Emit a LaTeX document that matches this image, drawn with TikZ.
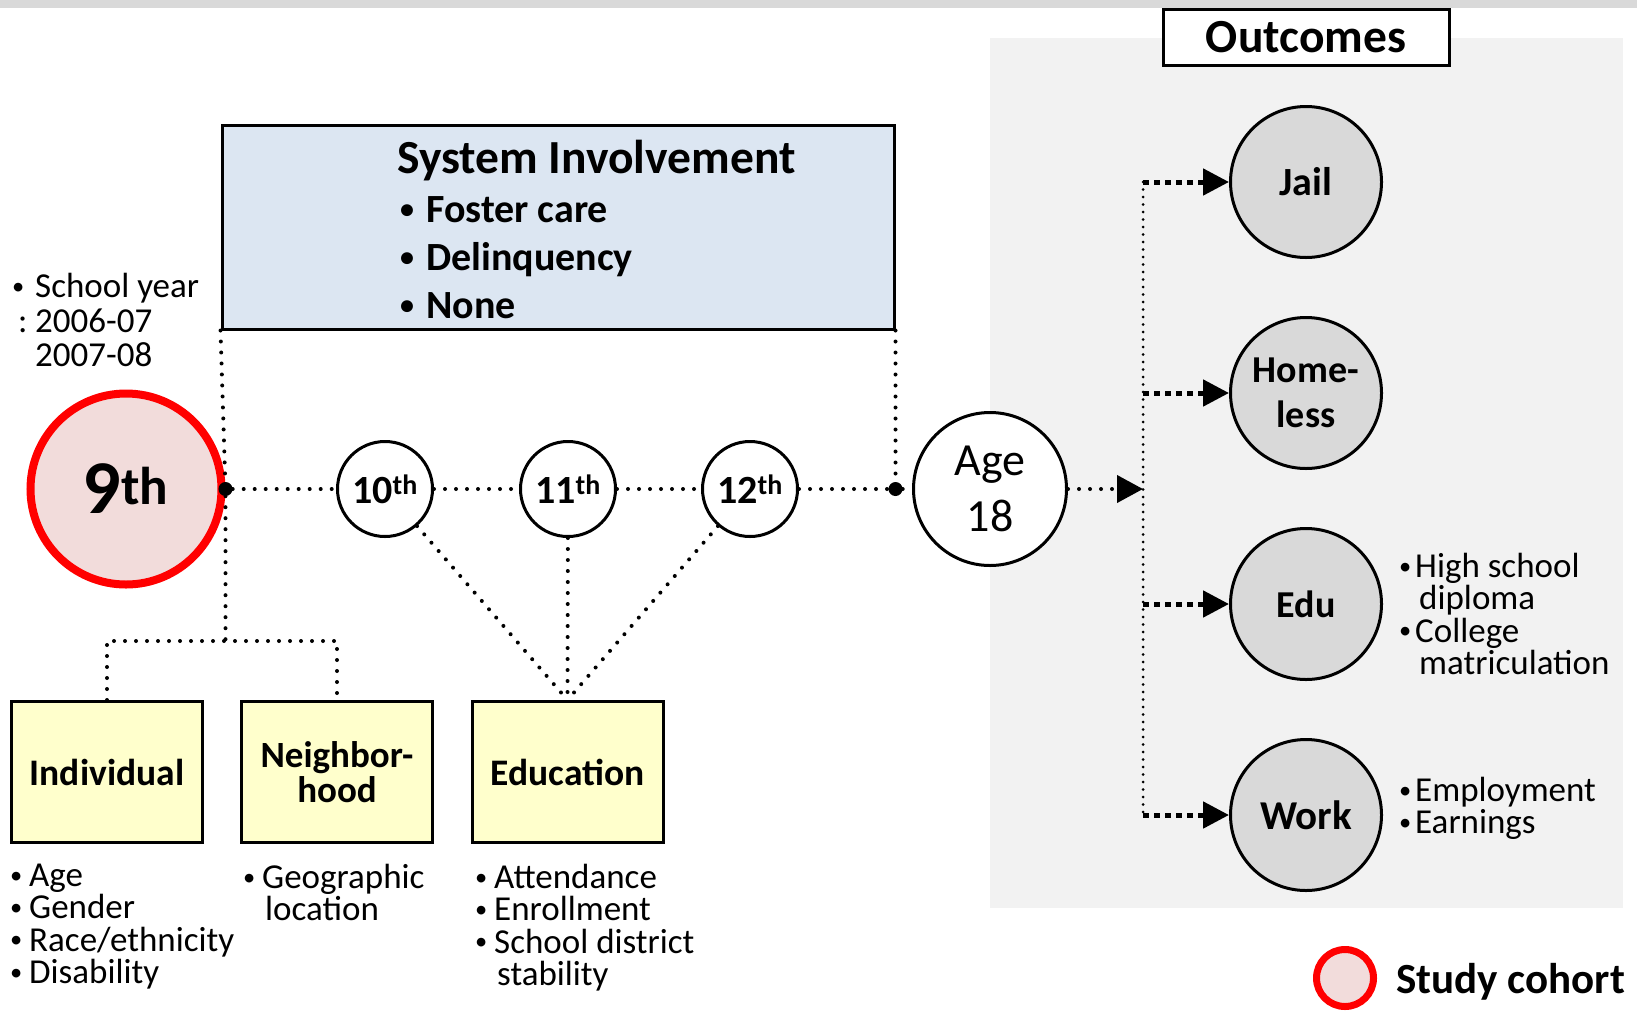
\documentclass[tikz,border=0pt]{standalone}
\usepackage{fontspec}
\usepackage{graphicx}
\setmainfont{Carlito}
\usetikzlibrary{arrows.meta,positioning,calc}

\definecolor{cohortred}{RGB}{255,0,0}
\definecolor{cohortfill}{RGB}{242,220,219}
\definecolor{sysblue}{RGB}{220,230,242}
\definecolor{factoryellow}{RGB}{255,255,204}
\definecolor{outgray}{RGB}{217,217,217}
\definecolor{panelgray}{RGB}{242,242,242}

\newcommand{\fsz}[2]{\fontsize{#1pt}{#2pt}\selectfont}
\newcommand{\itm}[2][19pt]{\makebox[#1][l]{\raisebox{0.1em}{\scalebox{0.7}{\textbullet}}}#2}
\newcommand{\cnt}[2][22pt]{\hspace*{#1}#2}

\tikzset{
  grade/.style={circle, draw, line width=3pt, fill=white, minimum size=95pt, inner sep=0pt, font=\bfseries\fsz{40}{40}},
  cohort/.style={circle, draw=cohortred, line width=8pt, fill=cohortfill, minimum size=191pt, inner sep=0pt, font=\bfseries\fsz{76}{76}},
  age/.style={circle, draw, line width=3pt, fill=white, minimum size=153pt, inner sep=0pt, align=center, font=\fsz{46}{56}},
  outc/.style={circle, draw, line width=3pt, fill=outgray, minimum size=151pt, inner sep=0pt, align=center, font=\bfseries\fsz{38}{45}},
  factor/.style={draw, line width=3pt, fill=factoryellow, minimum width=191pt, minimum height=141pt, inner sep=0pt, align=center, font=\bfseries\fsz{37.5}{33}},
  sysbox/.style={draw, line width=3pt, fill=sysblue, minimum width=672pt, minimum height=204pt, inner sep=0pt},
  titlebox/.style={draw, line width=3pt, fill=white, minimum width=286pt, minimum height=56pt, inner sep=0pt, font=\bfseries\fsz{47.5}{47.5}},
  junction/.style={circle, fill, inner sep=0pt, minimum size=14pt},
  dotline/.style={line width=4pt, dash pattern=on 0pt off 11pt, line cap=round},
  hubline/.style={line width=3pt, dash pattern=on 0pt off 7.5pt, line cap=round},
  outarrow/.style={line width=5pt, dash pattern=on 6pt off 5pt, -{Triangle[length=26pt,width=26pt]}},
  list/.style={align=left, inner sep=0pt, anchor=north west, font=\fsz{35}{32.3}}
}

\begin{document}
\begin{tikzpicture}[x=1pt,y=-1pt]
\useasboundingbox (0,0) rectangle (1637,1010);
% background
\fill[outgray] (0,0) rectangle (1637,8);
\fill[panelgray] (990,38) rectangle (1623,908);
\node[titlebox] (outcomes) at (1306,37) {Outcomes};

% system involvement
\node[sysbox] (sys) at (558,227) {};
\node[anchor=base west, inner sep=0pt, font=\bfseries\fsz{47.5}{47.5}] (sysTitle) at (397,173) {System Involvement};
\node[list, font=\bfseries\fsz{40}{48}] (sysList) at (400,196) {\itm[26pt]{Foster care}\\ \itm[26pt]{Delinquency}\\ \itm[26pt]{None}};

% grades
\node[list, font=\fsz{35}{34.5}] (yearList) at (12,273) {\itm[23pt]{School year}\\ \makebox[23pt][l]{\hspace{6pt}:}2006-07\\ \cnt[23pt]{2007-08}};
\node[cohort] (g9) at (126,489) {9\textsuperscript{th}};
\node[junction] (d9) at (g9.east) {};
\node[grade] (g10) at (385,489) {10\textsuperscript{th}};
\node[grade] (g11) at (568,489) {11\textsuperscript{th}};
\node[grade] (g12) at (750,489) {12\textsuperscript{th}};
\node[junction] (d18) at (sys.south east |- g12) {};
\node[age] (age) at (990,489) {Age\\18};

\draw[dotline] (d9) -- (g10) (g10) -- (g11) (g11) -- (g12) (g12) -- (d18) (d18) -- (age);
\draw[dotline] (sys.south west) -- (d9);
\draw[dotline] (sys.south east) -- (d18);

% factors
\node[factor] (ind) at (107,772) {Individual};
\node[factor, font=\bfseries\fsz{37}{33.5}] (nbh) at (337,772) {\raisebox{2pt}{Neighbor-}\\hood};
\node[factor] (edu) at (567.5,772) {Education};
\coordinate (split) at (d9 |- 0,641);
\draw[dotline] (d9) -- (split);
\draw[dotline] (ind.north) |- (split) -| (nbh.north);
\draw[dotline] (g10) -- (edu.north) (g11) -- (edu.north) (g12) -- (edu.north);

\node[list] (indList) at (10,864) {\itm{Age}\\ \itm{Gender}\\ \itm{Race/ethnicity}\\ \itm{Disability}};
\node[list] (nbhList) at (243,864) {\itm{Geographic}\\ \cnt{location}};
\node[list] (eduList) at (475,864) {\itm{Attendance}\\ \itm{Enrollment}\\ \itm{School district}\\ \cnt{stability}};

% outcomes
\node[outc, font=\bfseries\fsz{40}{45}] (jail) at (1306,182) {Jail};
\node[outc] (home) at (1306,393) {Home-\\less};
\node[outc] (eduo) at (1306,604) {Edu};
\node[outc, font=\bfseries\fsz{41}{45}] (work) at (1306,815) {Work};

\coordinate (hub) at (1143,489);
\draw[hubline] (hub |- jail) -- (hub |- work);
\draw[dotline, -{Triangle[length=26pt,width=27pt]}] (age) -- (hub);
\foreach \o in {jail,home,eduo,work}
  \draw[outarrow] (hub |- \o) -- (\o);

\node[list] (eduoList) at (1399,553) {\itm[16pt]{High school}\\ \cnt[20pt]{diploma}\\ \itm[16pt]{College}\\ \cnt[20pt]{matriculation}};
\node[list] (workList) at (1399,777) {\itm[16pt]{Employment}\\ \itm[16pt]{Earnings}};

% legend
\node[cohort, minimum size=57pt, line width=7pt] (legend) at (1345,978) {};
\node[anchor=base west, inner sep=0pt, font=\bfseries\fsz{43}{43}] (legendText) at (1396,993) {Study cohort};
\end{tikzpicture}
\end{document}
